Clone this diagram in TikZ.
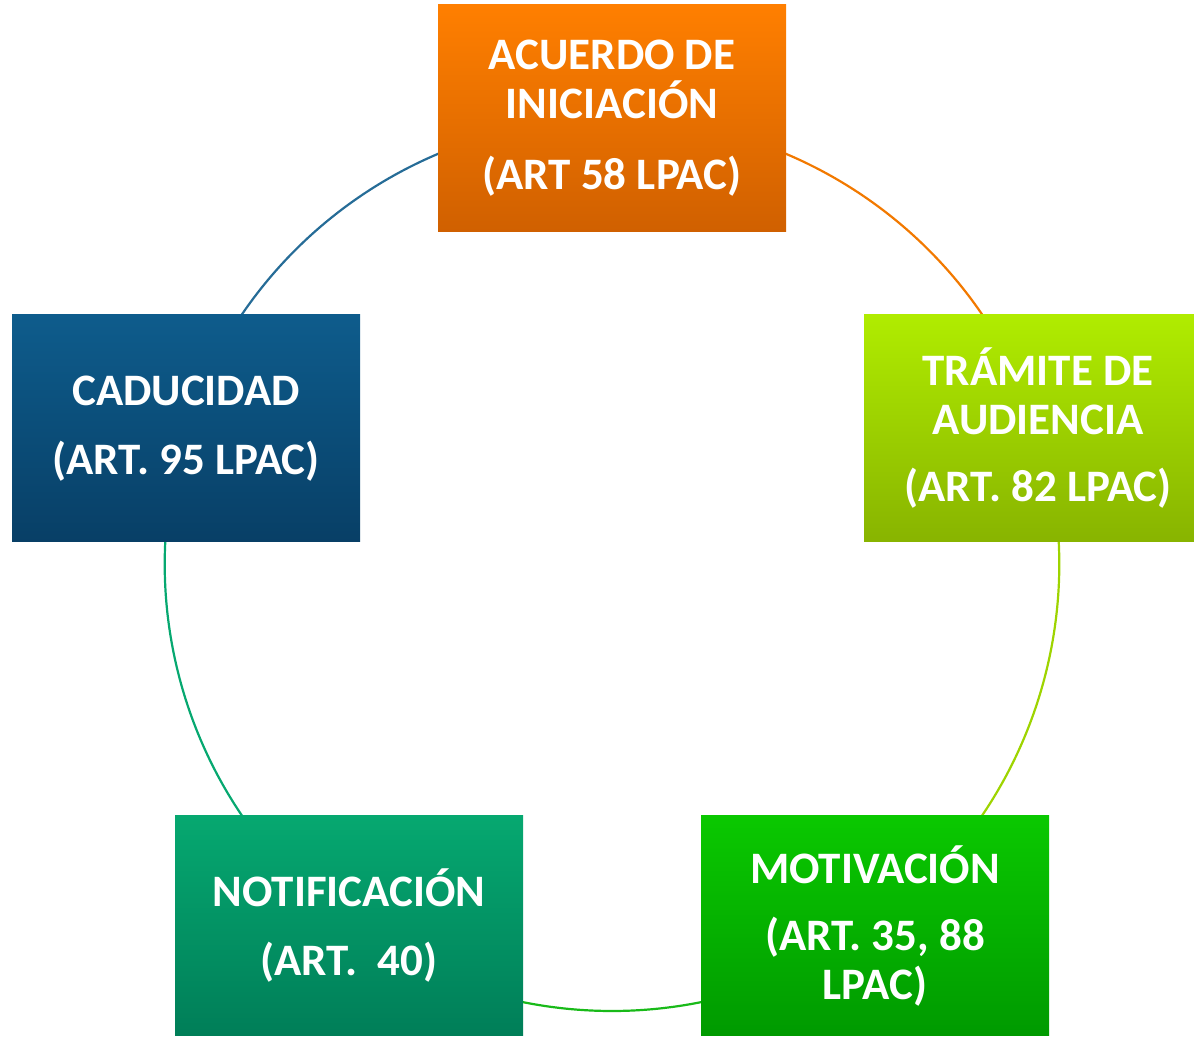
\documentclass[tikz,border=0pt]{standalone}
\usepackage{fontspec}
\setmainfont{Carlito}
\usepackage{tikz}
\usetikzlibrary{positioning}
\usetikzlibrary{backgrounds}

\definecolor{acuerdotop}{HTML}{FF7F00}
\definecolor{acuerdobot}{HTML}{D06000}
\definecolor{tramitetop}{HTML}{B0EC00}
\definecolor{tramitebot}{HTML}{88B400}
\definecolor{motivtop}{HTML}{0AC800}
\definecolor{motivbot}{HTML}{009A00}
\definecolor{notiftop}{HTML}{06A870}
\definecolor{notifbot}{HTML}{007E58}
\definecolor{caductop}{HTML}{0E5C8C}
\definecolor{caducbot}{HTML}{083F66}

\begin{document}
\begin{tikzpicture}[x=0.5pt,y=0.5pt]
\tikzset{stage/.style={rectangle,minimum width=174pt,minimum height=113.5pt, inner sep=0pt, align=center, text=white, font=\fontsize{22.5}{24.5}\selectfont\bfseries}}
\tikzset{ring/.style={line width=1.1pt, bend left=36, looseness=0.94}}
\useasboundingbox (0,0) rectangle (1194,1037);
\node[stage, top color=acuerdotop, bottom color=acuerdobot] (acuerdo) at (612,918.5) {ACUERDO DE\\INICIACIÓN\\[11pt](ART 58 LPAC)};
\node[stage, top color=tramitetop, bottom color=tramitebot] (tramite) at (1038,608.5) {TRÁMITE DE\\AUDIENCIA\\[9pt](ART. 82 LPAC)};
\node[stage, minimum height=110pt, top color=motivtop, bottom color=motivbot] (motivacion) at (875,111) {MOTIVACIÓN\\[9pt](ART. 35, 88\\LPAC)};
\node[stage, minimum height=110pt, top color=notiftop, bottom color=notifbot] (notificacion) at (349,111) {NOTIFICACIÓN\\[10pt](ART.\ \ 40)};
\node[stage, top color=caductop, bottom color=caducbot] (caducidad) at (186,608.5) {CADUCIDAD\\[10pt](ART. 95 LPAC)};
% the ring behind the boxes
\begin{scope}[on background layer]
\draw[ring, acuerdotop!95!black] (acuerdo.center) to (tramite.center);
\draw[ring, tramitetop!90!black] (tramite.center) to (motivacion.center);
\draw[ring, green!70!black!90] (motivacion.center) to (notificacion.center);
\draw[ring, notiftop] (notificacion.center) to (caducidad.center);
\draw[ring, caductop!90!white] (caducidad.center) to (acuerdo.center);
\end{scope}
\end{tikzpicture}
\end{document}
